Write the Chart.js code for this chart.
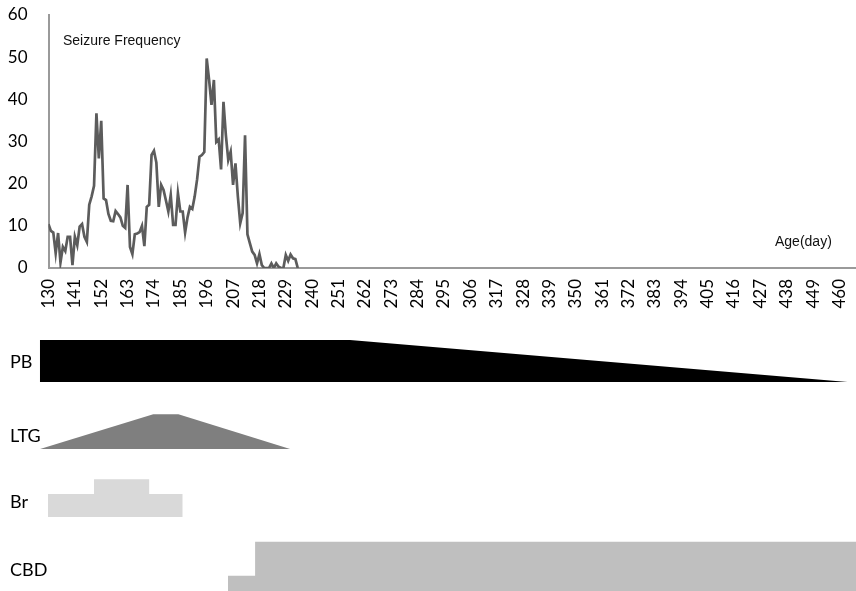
<!DOCTYPE html>
<html><head><meta charset="utf-8">
<script src="https://cdn.jsdelivr.net/npm/chart.js@4/dist/chart.umd.min.js"></script>
<style>
html,body{margin:0;padding:0;background:#fff;overflow:hidden;width:856px;height:591px}
#c1{position:absolute;left:0;top:0}
#c2{position:absolute;left:0;top:330px}
</style></head><body>
<canvas id="c1" width="856" height="330"></canvas>
<canvas id="c2" width="856" height="261"></canvas>
<script>
// ---- Data ----
const startDay = 130; // first day of daily seizure counts
const seizureFrequency = [
  10.4, 8.8, 8.4, 3.5, 8.3, 1.3, 5, 4, 7.4, 7.4,
  0.7, 7.4, 5.4, 9.8, 10.4, 7.4, 6.2, 15, 17, 19.5,
  36.7, 26, 34.9, 16.5, 16.1, 12.8, 11.2, 11.1, 13.5, 12.8,
  12, 10, 9.5, 19.7, 5, 3.3, 8, 8.2, 8.5, 10,
  5.2, 14.5, 15, 26.8, 27.8, 25, 14.5, 19.7, 18.5, 16,
  13.4, 17.3, 10.2, 10.2, 17.7, 13.4, 13.4, 8.4, 12, 14.5,
  14, 17, 21, 26.4, 26.8, 27.5, 49.7, 44.6, 38.7, 44.6,
  29.9, 30.5, 23.4, 39.4, 31.5, 25.6, 27.6, 19.7, 24.8, 17,
  10.6, 13, 31.5, 8, 5.9, 3.9, 3.1, 1.1, 3.3, 0.7,
  0, 0, 0, 1.1, 0, 1.1, 0.3, 0, 0, 3.1,
  1.7, 3.2, 2.3, 2.1, 0
];
const tickDays = [130,141,152,163,174,185,196,207,218,229,240,251,262,273,284,295,306,317,328,339,350,361,372,383,394,405,416,427,438,449,460];
const yTicks = [0,10,20,30,40,50,60];

// Drug regimens: [day, relative dose level]
const drugNames = ['PB','LTG','Br','CBD'];
const pbDose  = [[126.4,1],[255.8,1],[463.4,0]];
const ltgDose = [[126.5,0],[173.7,0.83],[184.2,0.83],[230.8,0]];
const brDose  = [[129.8,0.55],[149,0.55],[149,0.9],[172,0.9],[172,0.55],[186,0.55]];
const cbdDose = [[204.9,0.36],[216.2,0.36],[216.2,1.17],[467,1.17]];

// ---- Styles / layout ----
const FONT = 'Lato, "Open Sans", sans-serif';
const dayMin = 130, dayMax = 466.9;

const seizurePoints = seizureFrequency.map((v, i) => ({x: startDay + i, y: v}));

const annot = {
  id: 'annot',
  afterDraw(chart) {
    const ctx = chart.ctx;
    ctx.save();
    ctx.fillStyle = '#111';
    ctx.font = '14px "Liberation Sans", Arial, sans-serif';
    ctx.textBaseline = 'middle';
    ctx.textAlign = 'left';
    ctx.fillText('Seizure Frequency', 63, 41);
    ctx.fillText('Age(day)', 775, 242);
    ctx.restore();
  }
};

new Chart(document.getElementById('c1'), {
  type: 'line',
  data: { datasets: [{
    data: seizurePoints,
    borderColor: '#5c5c5c', borderWidth: 2.7,
    pointRadius: 0, tension: 0, fill: false
  }]},
  options: {
    responsive: false, animation: false,
    layout: { padding: 0 },
    plugins: { legend: { display: false }, tooltip: { enabled: false } },
    scales: {
      x: {
        type: 'linear', min: dayMin, max: dayMax,
        afterBuildTicks: s => { s.ticks = tickDays.map(v => ({value: v})); },
        afterFit: s => { s.height = 62; s.paddingLeft = 0; s.paddingRight = 0; },
        ticks: { autoSkip: false, minRotation: 90, maxRotation: 90, padding: 11,
                 color: '#000', font: { family: FONT, size: 17 }, callback: v => String(v) },
        grid: { display: false, drawTicks: false },
        border: { color: '#9a9a9a', width: 2 }
      },
      y: {
        min: 0, max: 60,
        afterBuildTicks: s => { s.ticks = yTicks.map(v => ({value: v})); },
        afterFit: s => { s.width = 48.5; s.paddingTop = 15; s.paddingBottom = 0; },
        ticks: { padding: 21, color: '#000', font: { family: FONT, size: 17 } },
        grid: { display: false, drawTicks: false },
        border: { color: '#9a9a9a', width: 2 }
      }
    }
  },
  plugins: [annot]
});

// Drug chart: one stacked y-axis per drug
const drugData = [pbDose, ltgDose, brDose, cbdDose];
const drugColors = ['#000000', '#7f7f7f', '#d9d9d9', '#bfbfbf'];
const drugAxes = [
  { min: -0.315, max: 1.238, label: 0.464 },
  { min: -0.274, max: 1.28,  label: 0.298 },
  { min: -0.21,  max: 1.35,  label: 0.35 },
  { min: 0,      max: 1.55,  label: 0.497 }
];

const scales2 = { x: { type: 'linear', min: 126, max: dayMax, display: false } };
drugNames.forEach((name, i) => {
  const ax = drugAxes[i];
  scales2['y' + name] = {
    type: 'linear', position: 'left', stack: 'drugs', stackWeight: 1, weight: 10 - i,
    min: ax.min, max: ax.max,
    afterBuildTicks: s => { s.ticks = [{value: ax.label}]; },
    afterFit: s => { s.width = 38.9; s.paddingTop = 0; s.paddingBottom = 0; },
    ticks: { mirror: true, crossAlign: 'near', padding: -28.9, color: '#000',
             font: { family: FONT, size: 18 }, callback: () => name },
    grid: { display: false, drawTicks: false },
    border: { display: false }
  };
});

new Chart(document.getElementById('c2'), {
  type: 'line',
  data: { datasets: drugNames.map((name, i) => ({
    label: name,
    data: drugData[i].map(([d, v]) => ({x: d, y: v})),
    yAxisID: 'y' + name,
    backgroundColor: drugColors[i], borderColor: drugColors[i], borderWidth: 0,
    pointRadius: 0, tension: 0, fill: { value: 0 }
  }))},
  options: {
    responsive: false, animation: false,
    layout: { padding: 0 },
    plugins: { legend: { display: false }, tooltip: { enabled: false } },
    scales: scales2
  }
});
</script>
</body></html>
